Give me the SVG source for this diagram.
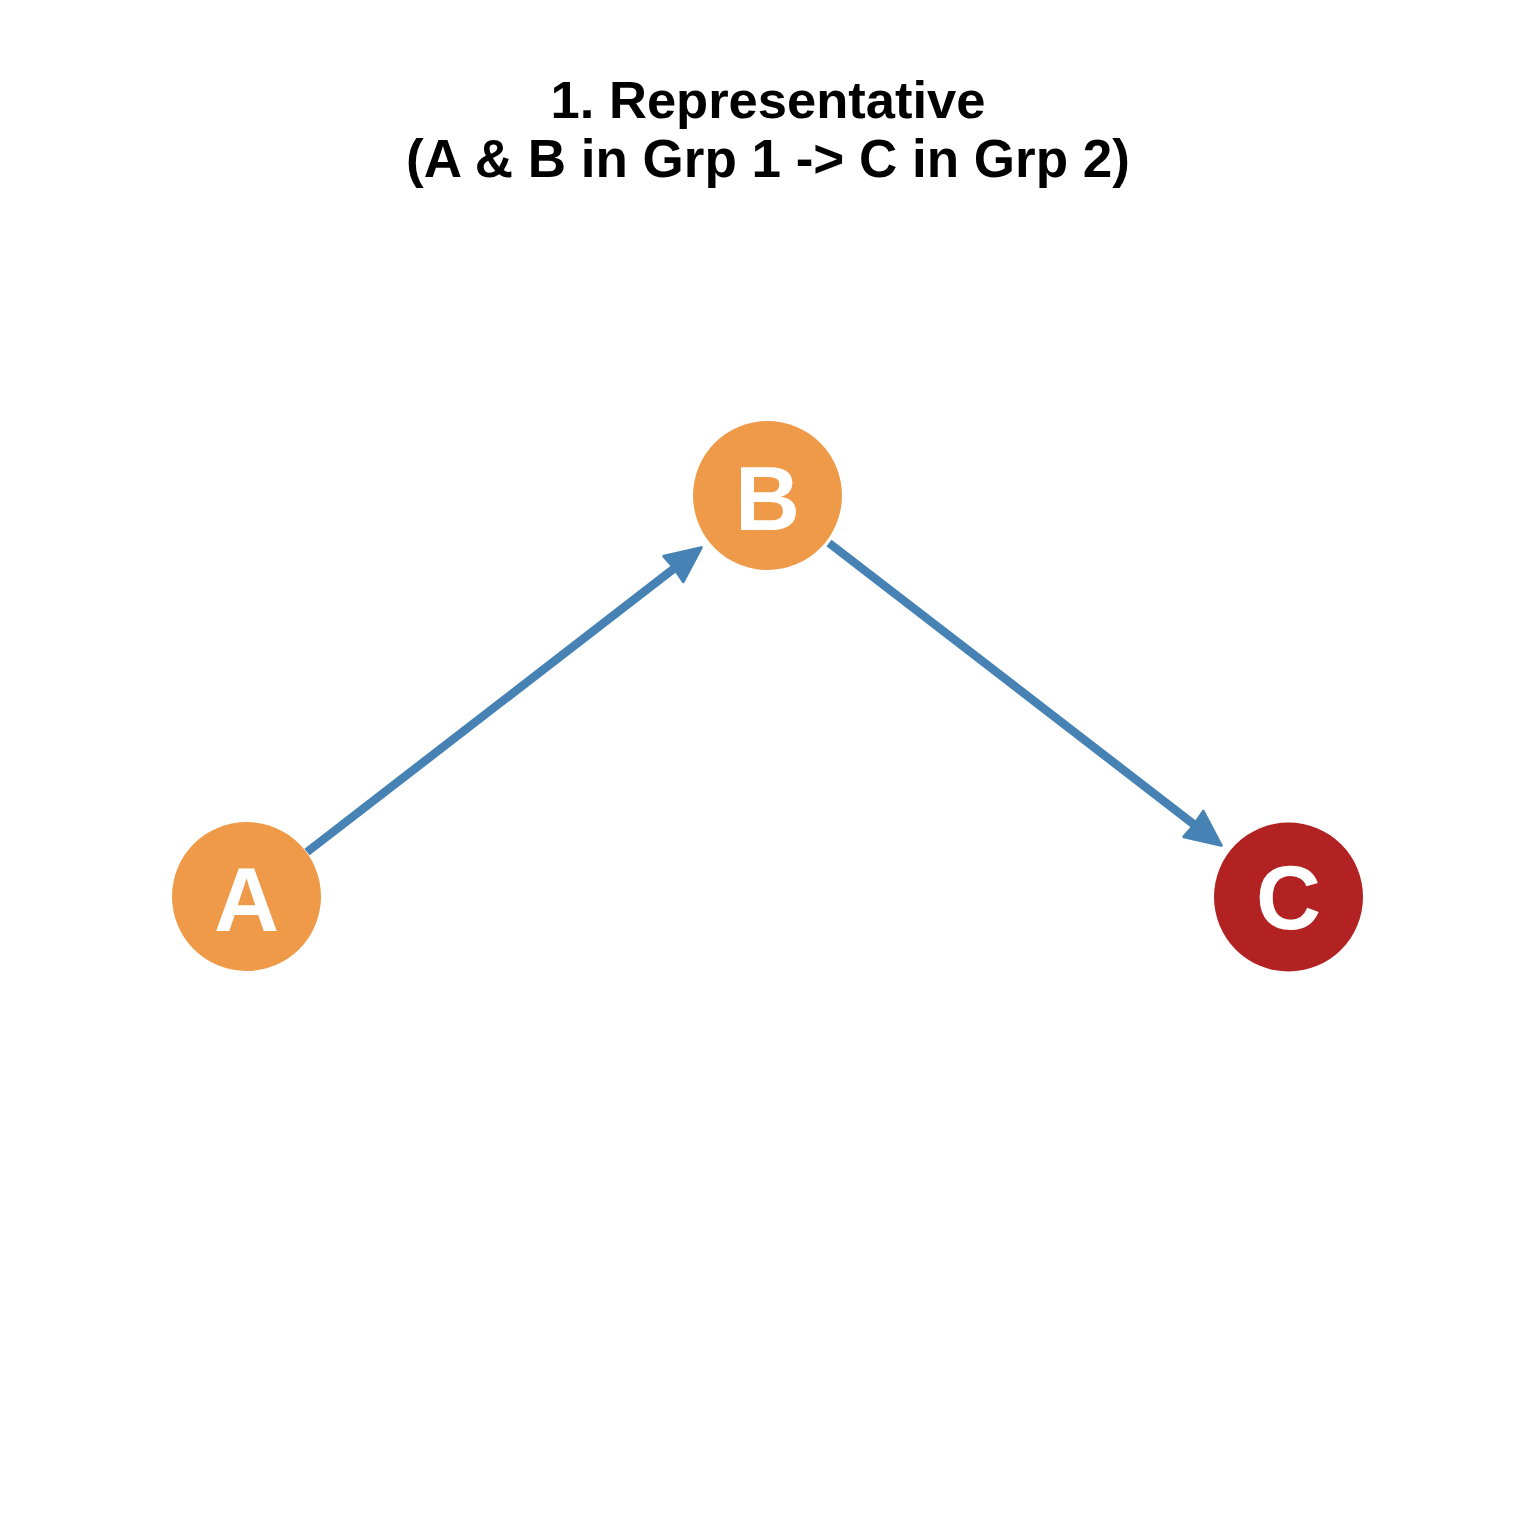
<svg xmlns="http://www.w3.org/2000/svg" width="1536" height="1536" viewBox="0 0 1536 1536">
<style>
.title{font-family:"Liberation Sans",Arial,sans-serif;font-weight:bold;font-size:52.5px;fill:#000;text-anchor:middle}
.lbl{font-family:"Liberation Sans",Arial,sans-serif;font-weight:bold;font-size:90px;fill:#fff;text-anchor:middle}
.edge{stroke:#4682B4;stroke-width:8.5;fill:none}
.g1{fill:#EE9A49}
.g2{fill:#B22222}
</style>
<defs>
<marker id="ah" markerUnits="userSpaceOnUse" markerWidth="44" markerHeight="44" refX="17" refY="18" orient="auto" viewBox="-2 -2 44 44">
<path d="M1,2 L36,18 L1,34 L2,18 z" fill="#4682B4" stroke="#4682B4" stroke-width="3" stroke-linejoin="round"/>
</marker>
</defs>
<rect width="1536" height="1536" fill="#fff"/>
<g id="title">
<text class="title" x="768" y="118">1. Representative</text>
<text class="title" x="768" y="177" style="font-size:53px">(A &amp; B in Grp 1 -&gt; C in Grp 2)</text>
</g>
<g id="edges">
<line class="edge" x1="307" y1="852" x2="686.2" y2="559.2" marker-end="url(#ah)"/>
<line class="edge" x1="829" y1="543" x2="1206.2" y2="833.8" marker-end="url(#ah)"/>
</g>
<g id="node-A">
<circle class="g1" cx="246.5" cy="896.5" r="74.5"/>
<text class="lbl" x="246.5" y="931">A</text>
</g>
<g id="node-B">
<circle class="g1" cx="767.5" cy="495.5" r="74.5"/>
<text class="lbl" x="767.5" y="530">B</text>
</g>
<g id="node-C">
<circle class="g2" cx="1288.5" cy="897" r="74.5"/>
<text class="lbl" x="1288.5" y="929">C</text>
</g>
</svg>
